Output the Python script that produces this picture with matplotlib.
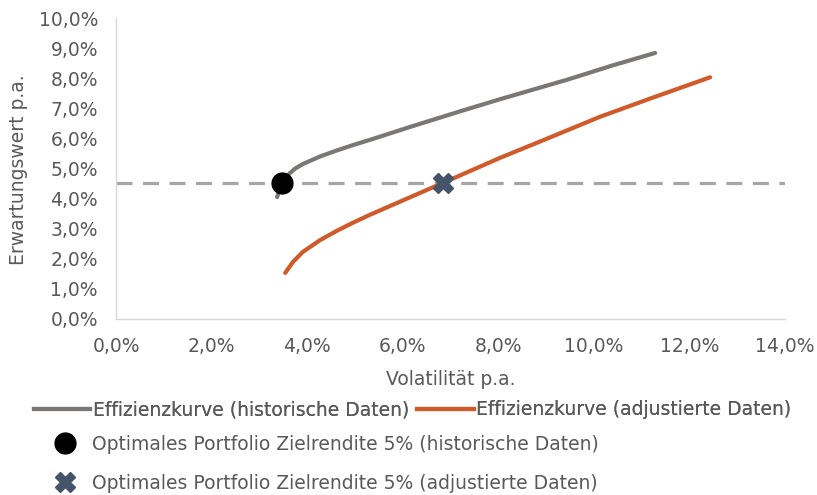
import matplotlib.pyplot as plt
from matplotlib.lines import Line2D
from matplotlib.ticker import FuncFormatter

plt.rcParams['font.family'] = ['DejaVu Sans']

# Effizienzkurve (historische Daten): Volatilität, Erwartungswert in %
hist_vol = [3.37, 3.42, 3.47, 3.55, 3.64, 3.75, 3.91, 4.27, 4.62, 4.96, 5.31, 6.15, 7.2, 8.03, 9.44, 10.4, 11.28]
hist_ret = [4.05, 4.3, 4.52, 4.7, 4.85, 5.0, 5.15, 5.4, 5.6, 5.78, 5.95, 6.38, 6.9, 7.3, 7.95, 8.43, 8.84]

# Effizienzkurve (adjustierte Daten)
adj_vol = [3.54, 3.7, 3.91, 4.27, 4.62, 4.96, 5.31, 5.8, 6.84, 8.03, 9.0, 10.13, 11.17, 12.43]
adj_ret = [1.53, 1.89, 2.23, 2.62, 2.93, 3.2, 3.46, 3.8, 4.52, 5.35, 5.98, 6.72, 7.32, 8.03]

target = 4.52
opt_hist = (3.47, 4.52)
opt_adj = (6.84, 4.52)

fig = plt.figure(figsize=(8.17, 4.95), dpi=100)
ax = fig.add_axes([0.142, 0.3556, 0.819, 0.608])

ax.axhline(target, color='#A5A5A5', lw=2.3, ls=(0, (5, 3.3)), zorder=1)
ax.plot(hist_vol, hist_ret, color='#7B7772', lw=3, solid_capstyle='round',
        solid_joinstyle='round', zorder=2)
ax.plot(adj_vol, adj_ret, color='#D05A2A', lw=3, solid_capstyle='round',
        solid_joinstyle='round', zorder=2)
ax.plot(*opt_hist, 'o', color='black', ms=15, zorder=3)
ax.plot(*opt_adj, 'X', color='#44546A', ms=15, zorder=3)

ax.set_xlim(0, 14)
ax.set_ylim(0, 10)
ax.set_xticks(range(0, 15, 2))
ax.set_yticks(range(0, 11))
fmt = FuncFormatter(lambda v, p: f'{v:.1f}%'.replace('.', ','))
ax.xaxis.set_major_formatter(fmt)
ax.yaxis.set_major_formatter(fmt)
ax.tick_params(length=0, labelsize=13.5, colors='#595959')
ax.tick_params(axis='y', pad=13)
ax.tick_params(axis='x', pad=13)
for s in ['top', 'right']:
    ax.spines[s].set_visible(False)
for s in ['left', 'bottom']:
    ax.spines[s].set_color('#D9D9D9')
    ax.spines[s].set_linewidth(1)

ax.set_xlabel('Volatilität p.a.', fontsize=13.5, color='#595959', labelpad=10)
ax.set_ylabel('Erwartungswert p.a.', fontsize=13.5, color='#595959')
ax.yaxis.set_label_coords(-0.131, 0.495)

h1 = [Line2D([], [], color='#7B7772', lw=3),
      Line2D([], [], color='#D05A2A', lw=3)]
leg1 = fig.legend(h1, ['Effizienzkurve (historische Daten)', 'Effizienzkurve (adjustierte Daten)'],
                  ncol=2, loc='center', bbox_to_anchor=(0.505, 0.172), frameon=False,
                  fontsize=13.5, labelcolor='#595959', handlelength=3.0, handletextpad=0.15,
                  columnspacing=0.45)

h2 = [Line2D([], [], marker='o', color='black', ls='', ms=15),
      Line2D([], [], marker='X', color='#44546A', ls='', ms=15)]
leg2 = fig.legend(h2, ['Optimales Portfolio Zielrendite 5% (historische Daten)',
                       'Optimales Portfolio Zielrendite 5% (adjustierte Daten)'],
                  loc='upper left', bbox_to_anchor=(0.0624, 0.122), frameon=False,
                  fontsize=13.5, labelcolor='#595959', handlelength=1.5, handletextpad=0.7,
                  labelspacing=1.08, borderpad=0, borderaxespad=0)
fig.add_artist(leg1)

fig.savefig('out.png', dpi=100)
